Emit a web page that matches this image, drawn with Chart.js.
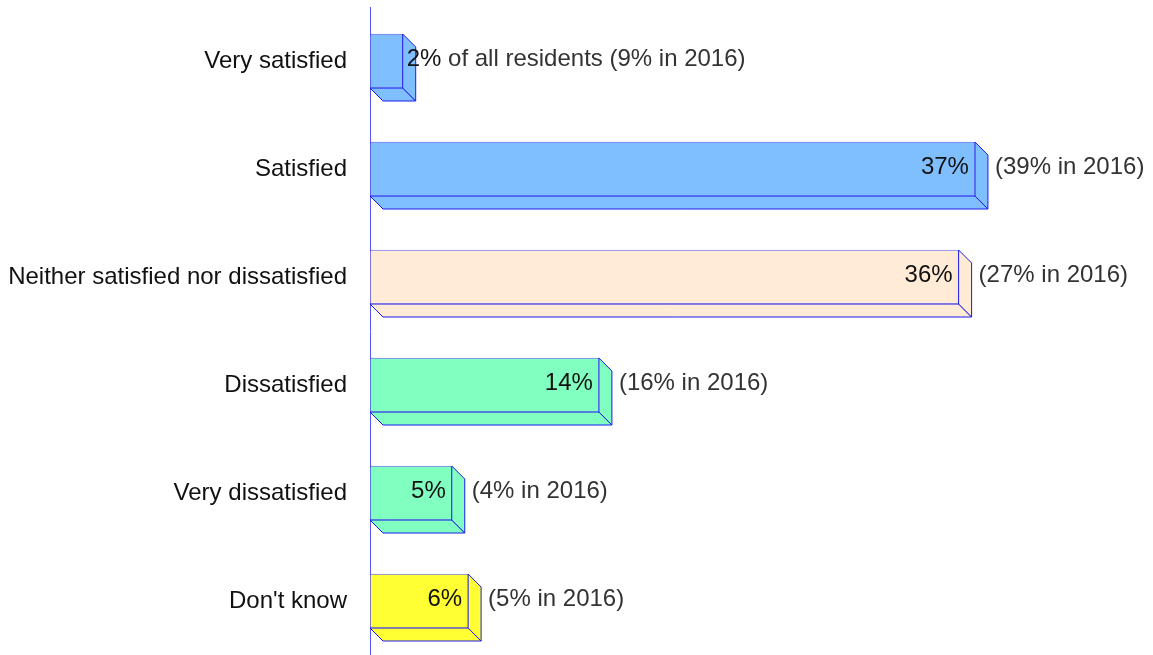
<!DOCTYPE html>
<html>
<head>
<meta charset="utf-8">
<script src="https://cdn.jsdelivr.net/npm/chart.js@4"></script>
<style>
  html, body { margin: 0; padding: 0; background: #fff; }
  #wrap { width: 1153px; height: 655px; }
</style>
</head>
<body>
<div id="wrap"><canvas id="chart"></canvas></div>
<script>
const categories = ['Very satisfied', 'Satisfied', 'Neither satisfied nor dissatisfied', 'Dissatisfied', 'Very dissatisfied', "Don't know"];
const values = [2, 37, 36, 14, 5, 6];
const values2016 = [9, 39, 27, 16, 4, 5];

const fills = ['#80bfff', '#80bfff', '#ffebd6', '#80ffc0', '#80ffc0', '#ffff33'];
const DEPTH = 13;
const FONT = '"Liberation Sans", Arial, sans-serif';

// side + bottom faces of the 3d bars
const depthFaces = {
  id: 'depthFaces',
  beforeDatasetsDraw(chart) {
    const ctx = chart.ctx;
    chart.getDatasetMeta(0).data.forEach((bar, i) => {
      const top = bar.y - bar.height / 2;
      const bot = bar.y + bar.height / 2;
      ctx.save();
      ctx.fillStyle = fills[i];
      ctx.strokeStyle = '#1a1aee';
      ctx.lineWidth = 1;
      // bottom
      ctx.beginPath();
      ctx.moveTo(bar.base, bot);
      ctx.lineTo(bar.x, bot);
      ctx.lineTo(bar.x + DEPTH, bot + DEPTH);
      ctx.lineTo(bar.base + DEPTH, bot + DEPTH);
      ctx.closePath();
      ctx.fill();
      ctx.stroke();
      // right side
      ctx.beginPath();
      ctx.moveTo(bar.x, top);
      ctx.lineTo(bar.x + DEPTH, top + DEPTH);
      ctx.lineTo(bar.x + DEPTH, bot + DEPTH);
      ctx.lineTo(bar.x, bot);
      ctx.closePath();
      ctx.fill();
      ctx.stroke();
      ctx.restore();
    });
  }
};

const valueLabels = {
  id: 'valueLabels',
  afterDatasetsDraw(chart) {
    const ctx = chart.ctx;
    ctx.save();
    ctx.font = '24px ' + FONT;
    ctx.textBaseline = 'middle';
    chart.getDatasetMeta(0).data.forEach((bar, i) => {
      const y = bar.y - 2;
      const inner = values[i] + '%';
      const outer = '(' + values2016[i] + '% in 2016)';
      if (i === 0) {
        ctx.textAlign = 'left';
        ctx.fillStyle = '#111';
        ctx.fillText(inner, bar.x + 4, y);
        const w = ctx.measureText(inner).width;
        ctx.fillStyle = '#333';
        ctx.fillText(' of all residents ' + outer, bar.x + 4 + w, y);
        return;
      }
      ctx.textAlign = 'right';
      ctx.fillStyle = '#111';
      ctx.fillText(inner, bar.x - 6, y);
      ctx.textAlign = 'left';
      ctx.fillStyle = '#333';
      ctx.fillText(outer, bar.x + DEPTH + 7, y);
    });
    ctx.restore();
  }
};

new Chart(document.getElementById('chart'), {
  type: 'bar',
  data: {
    labels: categories,
    datasets: [{
      data: values,
      backgroundColor: fills,
      borderColor: 'rgba(40, 40, 230, 0.6)',
      borderWidth: 1,
      borderSkipped: false,
      barThickness: 54
    }]
  },
  options: {
    indexAxis: 'y',
    responsive: true,
    maintainAspectRatio: false,
    animation: false,
    layout: { padding: { top: 7, right: 129, bottom: 0, left: 0 } },
    plugins: { legend: { display: false }, tooltip: { enabled: false } },
    scales: {
      x: { display: false, min: 0, max: 40 },
      y: {
        afterFit(s) { s.width = 370; s.paddingTop = 0; s.paddingBottom = 0; },
        grid: { display: false, drawTicks: false },
        border: { display: true, color: '#5555ff', width: 1 },
        ticks: { color: '#111', padding: 23, font: { family: FONT, size: 24 } }
      }
    }
  },
  plugins: [depthFaces, valueLabels]
});
</script>
</body>
</html>
